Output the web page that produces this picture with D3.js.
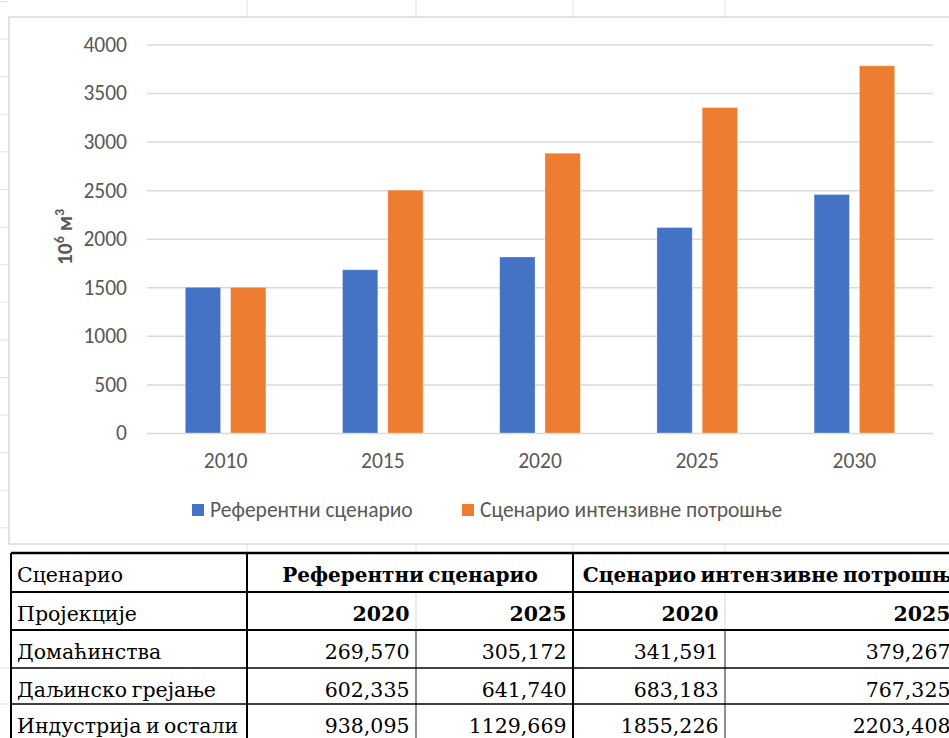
<!DOCTYPE html>
<html>
<head>
<meta charset="utf-8">
<script src="https://cdn.jsdelivr.net/npm/d3@7"></script>
<style>
  body { margin: 0; background: #fff; }
  svg { display: block; }
</style>
</head>
<body>
<svg id="chart" width="949" height="738"></svg>
<script>
// chart data
const years = ["2010", "2015", "2020", "2025", "2030"];
const seriesNames = ["Референтни сценарио", "Сценарио интензивне потрошње"];
const referentValues = [1500, 1680, 1812, 2115, 2455];
const intensiveValues = [1500, 2500, 2880, 3350, 3780];
const yTicks = [0, 500, 1000, 1500, 2000, 2500, 3000, 3500, 4000];
const colors = ["#4472C4", "#ED7D31"];

// table data
const tableScenarios = ["Референтни сценарио", "Сценарио интензивне потрошње"];
const tableYears = ["2020", "2025", "2020", "2025"];
const rowLabels = ["Домаћинства", "Даљинско грејање", "Индустрија и остали"];
const tableValues = [
    [269.570, 305.172, 341.591, 379.267],
    [602.335, 641.740, 683.183, 767.325],
    [938.095, 1129.669, 1855.226, 2203.408]
];

const svg = d3.select("#chart");
const W = 949, H = 738;
svg.append("rect").attr("width", W).attr("height", H).attr("fill", "#fff");

// faint spreadsheet grid showing around the chart
const sheetCols = [247, 416, 573, 725];
const sheetRows = d3.range(1.5, 552, 37.6);
const sheet = svg.append("g").attr("stroke", "#e3e3e3").attr("stroke-width", 1);
sheetCols.forEach(x => {
    sheet.append("line").attr("x1", x).attr("x2", x).attr("y1", 0).attr("y2", 17);
    sheet.append("line").attr("x1", x).attr("x2", x).attr("y1", 545).attr("y2", 553);
});
sheetRows.forEach(y => {
    sheet.append("line").attr("x1", 0).attr("x2", 8).attr("y1", y).attr("y2", y);
});
[668, 704].forEach(y => sheet.append("line").attr("x1", 0).attr("x2", 10).attr("y1", y).attr("y2", y));

// chart frame
svg.append("rect")
    .attr("x", 9).attr("y", 17)
    .attr("width", 960).attr("height", 527)
    .attr("fill", "#fff")
    .attr("stroke", "#d9d9d9").attr("stroke-width", 1.5);

const chartFont = "Calibri, Carlito, 'Noto Sans', sans-serif";
const chartSize = "21.5px";
const textGray = "#595959";

const plot = { left: 147, right: 933, top: 44.4, bottom: 433 };

const x = d3.scaleBand().domain(years).range([plot.left, plot.right]);
const bw = x.bandwidth();
const x1 = d3.scaleBand().domain([0, 1])
    .range([bw / 2 - 40.3, bw / 2 + 40.3])
    .paddingInner(0.22);
const y = d3.scaleLinear().domain([0, 4000]).range([plot.bottom, plot.top]);

// y axis with gridlines
const yAxis = svg.append("g")
    .attr("transform", `translate(${plot.left},0)`)
    .call(d3.axisLeft(y).tickValues(yTicks).tickFormat(d3.format("d"))
        .tickSize(-(plot.right - plot.left)).tickPadding(20));
yAxis.select(".domain").remove();
yAxis.selectAll(".tick line").attr("stroke", "#d9d9d9").attr("stroke-width", 1.5);
yAxis.selectAll(".tick text")
    .attr("fill", textGray)
    .style("font-family", chartFont)
    .style("font-size", chartSize);

// bars
const groups = svg.append("g").selectAll("g")
    .data(years)
    .join("g")
    .attr("transform", d => `translate(${x(d)},0)`);

groups.selectAll("rect")
    .data((d, i) => [referentValues[i], intensiveValues[i]])
    .join("rect")
    .attr("x", (d, i) => x1(i))
    .attr("width", x1.bandwidth())
    .attr("y", d => y(d))
    .attr("height", d => y(0) - y(d))
    .attr("fill", (d, i) => colors[i])
    .attr("stroke", "#fff").attr("stroke-opacity", 0.4).attr("stroke-width", 0.75);

// x axis labels
const xAxis = svg.append("g")
    .attr("transform", `translate(0,${plot.bottom})`)
    .call(d3.axisBottom(x).tickSize(0).tickPadding(0));
xAxis.select(".domain").remove();
xAxis.selectAll(".tick text")
    .attr("y", 35).attr("dy", 0)
    .attr("fill", textGray)
    .style("font-family", chartFont)
    .style("font-size", chartSize);

// y axis title
const yTitle = svg.append("text")
    .attr("transform", "translate(72,237) rotate(-90)")
    .attr("text-anchor", "middle")
    .attr("fill", textGray)
    .style("font-family", chartFont)
    .style("font-size", chartSize)
    .style("font-weight", "bold");
yTitle.append("tspan").text("10");
yTitle.append("tspan").attr("dy", -8).style("font-size", "14px").text("6");
yTitle.append("tspan").attr("dy", 8).text(" м");
yTitle.append("tspan").attr("dy", -8).style("font-size", "14px").text("3");

// legend
const legendX = [192, 462];
const legend = svg.append("g").selectAll("g")
    .data(seriesNames)
    .join("g")
    .attr("transform", (d, i) => `translate(${legendX[i]},504)`);
legend.append("rect")
    .attr("width", 12).attr("height", 12)
    .attr("fill", (d, i) => colors[i]);
legend.append("text")
    .attr("x", 18).attr("y", 13)
    .attr("fill", textGray)
    .style("font-family", chartFont)
    .style("font-size", chartSize)
    .text(d => d);

// table
const labelFont = "Cambria, 'DejaVu Serif', 'Liberation Serif', serif";
const numberFont = "'DejaVu Serif', serif";
const colX = [11, 247, 416, 573, 725, 957];
const rowY = [553, 592, 630, 668, 704, 742];
const mergedRight = 975;
const fmt = d3.formatLocale({ decimal: ",", thousands: ".", grouping: [3], currency: ["", ""] }).format(".3f");

const table = svg.append("g");
table.append("rect").attr("x", 10).attr("y", 552).attr("width", 950).attr("height", 200).attr("fill", "#fff");

function cellText(txt, xPos, row, anchor, bold, font, size) {
    table.append("text")
        .attr("x", xPos).attr("y", rowY[row] + 28.5)
        .attr("text-anchor", anchor)
        .attr("fill", "#000")
        .style("font-family", font)
        .style("font-size", size)
        .style("font-weight", bold ? "bold" : "normal")
        .text(txt);
}

// inner light / thin separators
table.append("g").selectAll("line")
    .data([2, 4])
    .join("line")
    .attr("x1", i => colX[i]).attr("x2", i => colX[i])
    .attr("y1", rowY[1]).attr("y2", rowY[2])
    .attr("stroke", "#d4d4d4").attr("stroke-width", 1);
table.append("g").selectAll("line")
    .data([2, 4])
    .join("line")
    .attr("x1", i => colX[i]).attr("x2", i => colX[i])
    .attr("y1", rowY[2]).attr("y2", rowY[5])
    .attr("stroke", "#444").attr("stroke-width", 1.2);

// thick borders
const rowStroke = [2.6, 2, 2, 1.6, 1.3, 1.3];
rowY.forEach((yy, i) => {
    table.append("line")
        .attr("x1", colX[0]).attr("x2", W + 10)
        .attr("y1", yy).attr("y2", yy)
        .attr("stroke", "#000").attr("stroke-width", rowStroke[i]);
});
[0, 1, 3].forEach(i => {
    table.append("line")
        .attr("x1", colX[i]).attr("x2", colX[i])
        .attr("y1", rowY[0]).attr("y2", rowY[5])
        .attr("stroke", "#000").attr("stroke-width", 2);
});

// header rows
cellText("Сценарио", 17, 0, "start", false, labelFont, "20.5px");
cellText(tableScenarios[0], (colX[1] + colX[3]) / 2, 0, "middle", true, labelFont, "20px");
cellText(tableScenarios[1], (colX[3] + mergedRight) / 2, 0, "middle", true, labelFont, "20px");
cellText("Пројекције", 17, 1, "start", false, labelFont, "20.5px");
tableYears.forEach((yr, j) => cellText(yr, colX[j + 2] - 6.5, 1, "end", true, numberFont, "20.5px"));

// data rows
rowLabels.forEach((lab, r) => {
    cellText(lab, 17, r + 2, "start", false, labelFont, "20.5px");
    tableValues[r].forEach((v, j) => cellText(fmt(v), colX[j + 2] - 6.5, r + 2, "end", false, numberFont, "20.5px"));
});
</script>
</body>
</html>
